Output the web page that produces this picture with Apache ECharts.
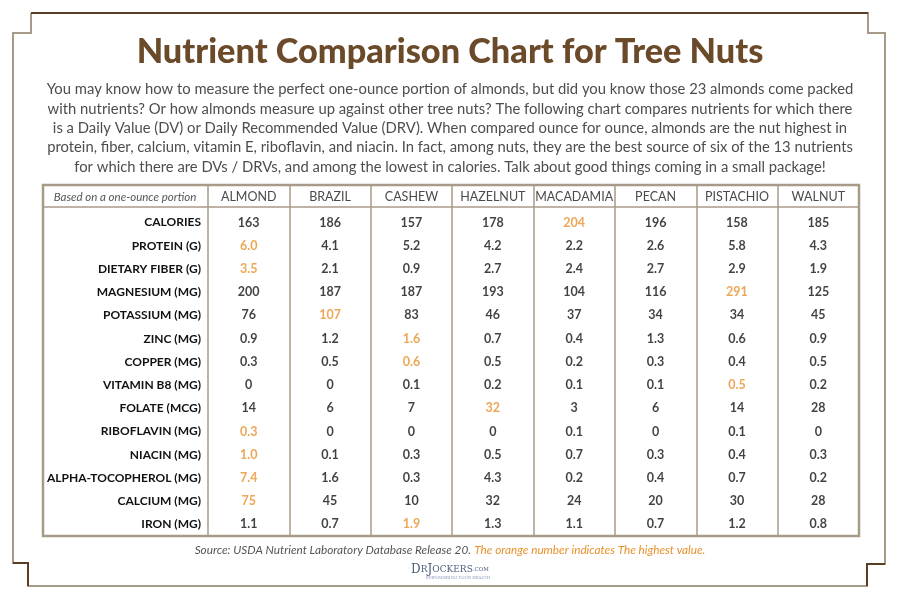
<!DOCTYPE html>
<html><head><meta charset="utf-8">
<script src="https://cdn.jsdelivr.net/npm/echarts@6/dist/echarts.min.js"></script>
<style>html,body{margin:0;padding:0;background:#fff}#c{width:900px;height:600px}</style>
</head><body><div id="c"></div>
<script>
const nuts = ["ALMOND","BRAZIL","CASHEW","HAZELNUT","MACADAMIA","PECAN","PISTACHIO","WALNUT"];
const nutrients = ["CALORIES","PROTEIN (G)","DIETARY FIBER (G)","MAGNESIUM (MG)","POTASSIUM (MG)","ZINC (MG)","COPPER (MG)","VITAMIN B8 (MG)","FOLATE (MCG)","RIBOFLAVIN (MG)","NIACIN (MG)","ALPHA-TOCOPHEROL (MG)","CALCIUM (MG)","IRON (MG)"];
const almond    = ["163","6.0","3.5","200","76","0.9","0.3","0","14","0.3","1.0","7.4","75","1.1"];
const brazil    = ["186","4.1","2.1","187","107","1.2","0.5","0","6","0","0.1","1.6","45","0.7"];
const cashew    = ["157","5.2","0.9","187","83","1.6","0.6","0.1","7","0","0.3","0.3","10","1.9"];
const hazelnut  = ["178","4.2","2.7","193","46","0.7","0.5","0.2","32","0","0.5","4.3","32","1.3"];
const macadamia = ["204","2.2","2.4","104","37","0.4","0.2","0.1","3","0.1","0.7","0.2","24","1.1"];
const pecan     = ["196","2.6","2.7","116","34","1.3","0.3","0.1","6","0","0.3","0.4","20","0.7"];
const pistachio = ["158","5.8","2.9","291","34","0.6","0.4","0.5","14","0.1","0.4","0.7","30","1.2"];
const walnut    = ["185","4.3","1.9","125","45","0.9","0.5","0.2","28","0","0.3","0.2","28","0.8"];
const headerNote = "Based on a one-ounce portion";
const titleText = "Nutrient Comparison Chart for Tree Nuts";
const introLines = [
  "You may know how to measure the perfect one-ounce portion of almonds, but did you know those 23 almonds come packed",
  "with nutrients? Or how almonds measure up against other tree nuts? The following chart compares nutrients for which there",
  "is a Daily Value (DV) or Daily Recommended Value (DRV). When compared ounce for ounce, almonds are the nut highest in",
  "protein, fiber, calcium, vitamin E, riboflavin, and niacin. In fact, among nuts, they are the best source of six of the 13 nutrients",
  "for which there are DVs / DRVs, and among the lowest in calories. Talk about good things coming in a small package!"
];
const sourceText = "Source: USDA Nutrient Laboratory Database Release 20.";
const noteText = "The orange number indicates The highest value.";

const columns = [almond, brazil, cashew, hazelnut, macadamia, pecan, pistachio, walnut];
const ORANGE = "#e8912d", TAN = "#a89a88", DARK = "#5a3d22";
const FONT = "Lato";

const cells = [];
nutrients.forEach((n, r) => {
  const vals = columns.map(c => parseFloat(c[r]));
  const mx = Math.max(...vals);
  columns.forEach((c, ci) => {
    cells.push({ value: [nuts[ci], n, c[r], parseFloat(c[r]) === mx ? 1 : 0] });
  });
});

const chart = echarts.init(document.getElementById('c'));
chart.setOption({
  backgroundColor: "#fff",
  animation: false,
  grid: { left: 208, right: 41, top: 211, bottom: 64 },
  xAxis: {
    type: "category", data: nuts, position: "top", boundaryGap: true,
    axisLine: { show: false },
    axisTick: { show: true, length: 26, interval: 0, lineStyle: { color: TAN, width: 1.5 } },
    axisLabel: { margin: 14, verticalAlign: "middle", color: "#4a4a4a", fontSize: 12.5, fontFamily: FONT, interval: 0 },
    splitLine: { show: true, interval: 0, lineStyle: { color: TAN, width: 1.5 } }
  },
  yAxis: {
    type: "category", data: nutrients, inverse: true,
    axisLine: { show: false }, axisTick: { show: false },
    axisLabel: { margin: 7, color: "#111", fontSize: 12, fontWeight: "bold", fontFamily: FONT, interval: 0 },
    splitLine: { show: false }
  },
  series: [{
    type: "scatter", data: cells, symbolSize: 1, silent: true,
    itemStyle: { color: "rgba(0,0,0,0)" },
    label: { show: true, position: "inside",
      formatter: p => (p.value[3] ? "{h|" : "{n|") + p.value[2] + "}",
      rich: {
        n: { fontSize: 12.5, fontWeight: "bold", fontFamily: FONT, color: "#111" },
        h: { fontSize: 12.5, fontWeight: "bold", fontFamily: FONT, color: ORANGE }
      } }
  }],
  graphic: [
    { type: "polyline", silent: true, shape: { points: [[31,13],[868,13],[868,33],[885,33],[885,564],[867,564],[867,586],[28,586],[28,563],[13,563],[13,33],[31,33],[31,13]] },
      style: { stroke: TAN, lineWidth: 2, fill: null } },
    { type: "polyline", silent: true, shape: { points: [[31,13],[868,13]] }, style: { stroke: DARK, lineWidth: 2 } },
    { type: "polyline", silent: true, shape: { points: [[13,563],[28,563],[28,586]] }, style: { stroke: DARK, lineWidth: 2, fill: null } },
    { type: "polyline", silent: true, shape: { points: [[885,564],[867,564],[867,586]] }, style: { stroke: DARK, lineWidth: 2, fill: null } },
    { type: "rect", silent: true, shape: { x: 43, y: 185, width: 816, height: 351 }, style: { stroke: TAN, lineWidth: 2.5, fill: null } },
    { type: "line", silent: true, shape: { x1: 43, y1: 207, x2: 859, y2: 207 }, style: { stroke: TAN, lineWidth: 1.5 } },
    { type: "text", silent: true, x: 125, y: 197, style: { text: headerNote, align: "center", verticalAlign: "middle", fontSize: 11.5, fontStyle: "italic", fontFamily: FONT, fill: "#555" } },
    { type: "text", silent: true, x: 450, y: 52, style: { text: titleText, align: "center", verticalAlign: "middle", fontSize: 34.3, fontWeight: 900, fontFamily: FONT, fill: "#6b4a2a" } },
    { type: "text", silent: true, x: 450, y: 80, style: { text: introLines.join("\n"), align: "center", verticalAlign: "top", fontSize: 14.8, lineHeight: 19.3, fontFamily: FONT, fill: "#4d4d4d" } },
    { type: "text", silent: true, x: 450, y: 550, style: { text: "{a|" + sourceText + "} {b|" + noteText + "}", align: "center", verticalAlign: "middle",
        rich: { a: { fontSize: 11.75, fontStyle: "italic", fontFamily: FONT, fill: "#555" }, b: { fontSize: 11.75, fontStyle: "italic", fontFamily: FONT, fill: ORANGE } } } },
    { type: "text", silent: true, x: 450, y: 570, style: { text: "{a|D}{b|R}{a|J}{b|OCKERS}{c|.COM}", align: "center", verticalAlign: "middle",
        rich: { a: { fontSize: 12, fontFamily: "DejaVu Serif", fill: "#4f5f7f" }, b: { fontSize: 9, fontFamily: "DejaVu Serif", fill: "#4f5f7f" }, c: { fontSize: 5.5, fontFamily: "DejaVu Serif", fill: "#4f5f7f" } } } },
    { type: "text", silent: true, x: 458, y: 578, style: { text: "EMPOWERING YOUR HEALTH", align: "center", verticalAlign: "middle", fontSize: 4, fontFamily: "DejaVu Serif", fill: "#8a9ab8" } }
  ]
});
</script></body></html>
